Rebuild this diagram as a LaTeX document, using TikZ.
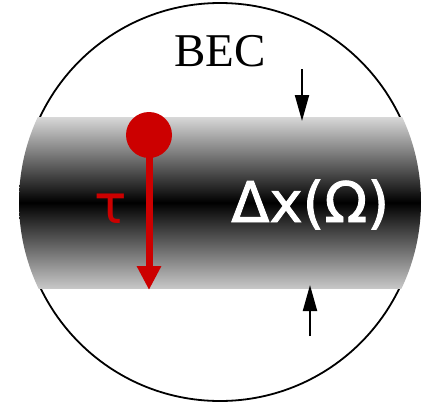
\documentclass[tikz,border=0pt]{standalone}
\usepackage{fontspec}
\setmainfont{Liberation Serif}
\newfontfamily\dejavu{DejaVu Sans}
\newfontfamily\dejavubold[FakeBold=1.6]{DejaVu Sans}
\usetikzlibrary{arrows.meta}
\definecolor{ballred}{HTML}{CC0000}
\definecolor{edgegray}{HTML}{D8D8D8}
\begin{document}
\begin{tikzpicture}[x=1pt,y=-1pt,
  blackarrow/.style={line width=2pt,-{Triangle[length=26pt,width=14pt]}},
  redarrow/.style={ballred,line width=7pt,-{Triangle[length=24pt,width=23pt]}}]
\useasboundingbox (0,0) rectangle (440,405);
\node[circle,draw=black,line width=1.8pt,minimum size=398pt,inner sep=0pt] (bec) at (220,202) {};
\begin{scope}
  \clip (220,202) circle[radius=201];
  \shade[top color=edgegray,bottom color=edgegray!92!black,middle color=black] (0,117) rectangle (440,288);
\end{scope}
\node[anchor=base,font=\fontsize{47}{50}\selectfont] (lbl) at (220,66) {BEC};
\coordinate (t1) at (302,69);
\coordinate (t2) at (302,121);
\draw[blackarrow] (t1) -- (t2);
\coordinate (b1) at (310,336);
\coordinate (b2) at (310,285);
\draw[blackarrow] (b1) -- (b2);
\node[circle,fill=ballred,minimum size=46pt,inner sep=0pt] (ball) at (149,135) {};
\coordinate (tip) at (149,290);
\draw[redarrow] (ball.center) -- (tip);
\node[anchor=base west,inner sep=0pt,text=ballred,font=\dejavu\fontsize{54}{58}\selectfont] (tau) at (94,223) {τ};
\node[anchor=base west,inner sep=0pt,text=white,font=\dejavubold\fontsize{56}{60}\selectfont] (dx) at (231,222) {Δx(Ω)};
\end{tikzpicture}
\end{document}
